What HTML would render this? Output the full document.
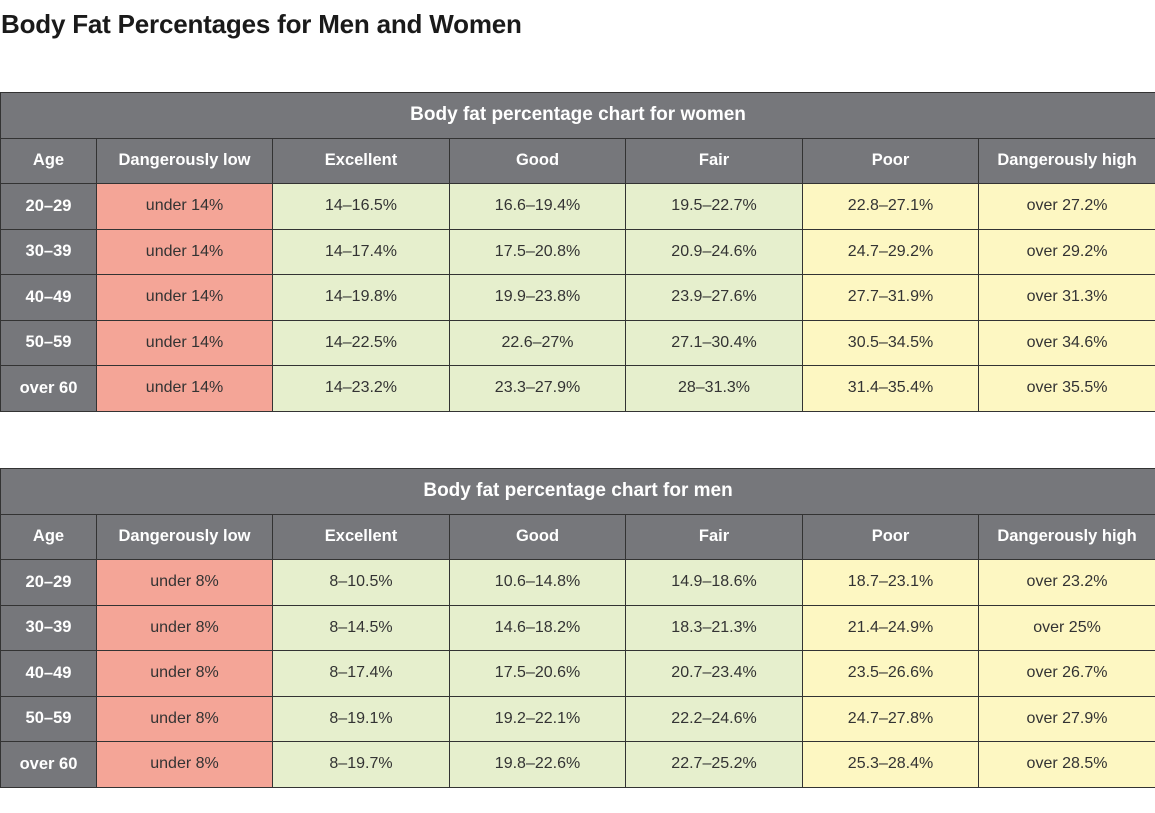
<!DOCTYPE html>
<html><head><style>
body{margin:0;width:1155px;height:813px;background:#fff;font-family:"Liberation Sans",sans-serif;overflow:hidden}
h1{position:absolute;left:1px;top:9px;margin:0;font-size:26px;font-weight:bold;color:#1a1a1a;letter-spacing:-0.2px}
table{position:absolute;left:0;width:1155px;border-collapse:collapse;table-layout:fixed}
td,th{border:1px solid #333;height:44.5px;padding:0;text-align:center;font-size:16px;color:#333}
th{background:#76777b;color:#fff;font-weight:bold;font-size:16.5px}
th.t{font-size:19px;font-weight:bold}
td.a{background:#76777b;color:#fff;font-weight:bold;font-size:16.5px}
td.r{background:#f4a597}
td.g{background:#e6efcd}
td.y{background:#fdf7c2}
</style></head><body>
<h1>Body Fat Percentages for Men and Women</h1>
<table style="top:92px">
<colgroup><col style="width:96px"><col style="width:176px"><col style="width:177px"><col style="width:176px"><col style="width:177px"><col style="width:176px"><col style="width:177px"></colgroup>
<tr><th class="t" colspan="7">Body fat percentage chart for women</th></tr>
<tr><th>Age</th><th>Dangerously low</th><th>Excellent</th><th>Good</th><th>Fair</th><th>Poor</th><th>Dangerously high</th></tr>
<tr><td class="a">20–29</td><td class="r">under 14%</td><td class="g">14–16.5%</td><td class="g">16.6–19.4%</td><td class="g">19.5–22.7%</td><td class="y">22.8–27.1%</td><td class="y">over 27.2%</td></tr>
<tr><td class="a">30–39</td><td class="r">under 14%</td><td class="g">14–17.4%</td><td class="g">17.5–20.8%</td><td class="g">20.9–24.6%</td><td class="y">24.7–29.2%</td><td class="y">over 29.2%</td></tr>
<tr><td class="a">40–49</td><td class="r">under 14%</td><td class="g">14–19.8%</td><td class="g">19.9–23.8%</td><td class="g">23.9–27.6%</td><td class="y">27.7–31.9%</td><td class="y">over 31.3%</td></tr>
<tr><td class="a">50–59</td><td class="r">under 14%</td><td class="g">14–22.5%</td><td class="g">22.6–27%</td><td class="g">27.1–30.4%</td><td class="y">30.5–34.5%</td><td class="y">over 34.6%</td></tr>
<tr><td class="a">over 60</td><td class="r">under 14%</td><td class="g">14–23.2%</td><td class="g">23.3–27.9%</td><td class="g">28–31.3%</td><td class="y">31.4–35.4%</td><td class="y">over 35.5%</td></tr>
</table>
<table style="top:468px">
<colgroup><col style="width:96px"><col style="width:176px"><col style="width:177px"><col style="width:176px"><col style="width:177px"><col style="width:176px"><col style="width:177px"></colgroup>
<tr><th class="t" colspan="7">Body fat percentage chart for men</th></tr>
<tr><th>Age</th><th>Dangerously low</th><th>Excellent</th><th>Good</th><th>Fair</th><th>Poor</th><th>Dangerously high</th></tr>
<tr><td class="a">20–29</td><td class="r">under 8%</td><td class="g">8–10.5%</td><td class="g">10.6–14.8%</td><td class="g">14.9–18.6%</td><td class="y">18.7–23.1%</td><td class="y">over 23.2%</td></tr>
<tr><td class="a">30–39</td><td class="r">under 8%</td><td class="g">8–14.5%</td><td class="g">14.6–18.2%</td><td class="g">18.3–21.3%</td><td class="y">21.4–24.9%</td><td class="y">over 25%</td></tr>
<tr><td class="a">40–49</td><td class="r">under 8%</td><td class="g">8–17.4%</td><td class="g">17.5–20.6%</td><td class="g">20.7–23.4%</td><td class="y">23.5–26.6%</td><td class="y">over 26.7%</td></tr>
<tr><td class="a">50–59</td><td class="r">under 8%</td><td class="g">8–19.1%</td><td class="g">19.2–22.1%</td><td class="g">22.2–24.6%</td><td class="y">24.7–27.8%</td><td class="y">over 27.9%</td></tr>
<tr><td class="a">over 60</td><td class="r">under 8%</td><td class="g">8–19.7%</td><td class="g">19.8–22.6%</td><td class="g">22.7–25.2%</td><td class="y">25.3–28.4%</td><td class="y">over 28.5%</td></tr>
</table>
</body></html>
